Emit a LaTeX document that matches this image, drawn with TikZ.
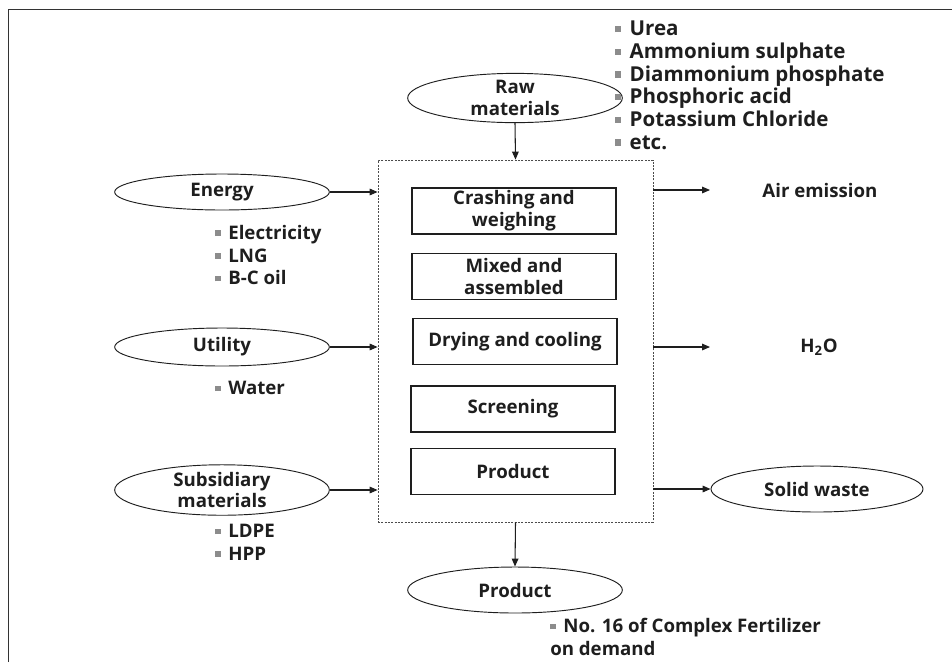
\documentclass[tikz,border=0pt]{standalone}
\usepackage{fontspec}
\setmainfont{Open Sans}
\usetikzlibrary{arrows.meta,shapes.geometric}
\definecolor{txt}{HTML}{1E1E1E}
\definecolor{bulgray}{HTML}{8C8C8C}
\newcommand{\bul}{\textcolor{bulgray}{\rule[0.18em]{0.3em}{0.3em}}\hspace{0.4em}}
\tikzset{
  every node/.style={font=\bfseries\fontsize{14}{16}\selectfont, text=txt},
  oval/.style={draw=txt, line width=0.7pt, ellipse, inner sep=0pt, minimum width=161pt, minimum height=27pt, align=center, font=\bfseries\fontsize{14}{16}\selectfont},
  stepbox/.style={draw=txt, line width=0.9pt, rectangle, inner sep=0pt, minimum width=153pt, minimum height=34.5pt, align=center, font=\bfseries\fontsize{14}{16.5}\selectfont},
  blist/.style={anchor=north west, align=left, inner sep=0pt, font=\bfseries\fontsize{14}{17}\selectfont},
  arr/.style={draw=txt, line width=0.8pt, -{Triangle[length=6pt,width=5pt]}},
}
\begin{document}
\begin{tikzpicture}[x=0.75pt, y=-0.75pt]
\useasboundingbox (0,0) rectangle (952,662);
% frame
\draw[line width=1.3pt, draw=black!80] (8.5,662) -- (8.5,9.5) -- (952,9.5);
% process box
\node[draw=txt!80, line width=0.6pt, dash pattern=on 1.5pt off 1pt, rectangle, minimum width=206.25pt, minimum height=271.5pt, inner sep=0pt] (proc) at (515.5,341) {};
\node[stepbox] (crash) at (514,211) {Crashing and\\weighing};
\node[stepbox] (mixed) at (514,276.5) {Mixed and\\assembled};
\node[stepbox] (dry) at (515,341.5) {Drying and cooling};
\node[stepbox] (screen) at (513,409) {Screening};
\node[stepbox] (prodbox) at (513,471.5) {Product};
% inputs
\node[oval, minimum height=34.5pt] (raw) at (515,98) {Raw\\materials};
\node[oval] (energy) at (222,192) {Energy};
\node[oval, minimum height=28.5pt] (utility) at (222,347) {Utility};
\node[oval, minimum height=30pt] (subsid) at (222,490) {Subsidiary\\materials};
% outputs
\node[oval, minimum width=159pt, minimum height=34.5pt] (solid) at (817,489) {Solid waste};
\node[oval, minimum height=34.5pt] (product) at (515,590) {Product};
\node (air) at (820,190) {Air emission};
\node (water) at (819,347) {H\textsubscript{2}O};
\coordinate (airend) at (710,190);
\coordinate (waterend) at (710,347);
% bullet lists
\node[blist, font=\bfseries\fontsize{15.4}{17}\selectfont] (rawlist) at (615,21) {\bul Urea\\\bul Ammonium sulphate\\\bul Diammonium phosphate\\\bul Phosphoric acid\\\bul Potassium Chloride\\\bul etc.};
\node[blist] (enlist) at (215,225) {\bul Electricity\\\bul LNG\\\bul B-C oil};
\node[blist] (utlist) at (215,381) {\bul Water};
\node[blist] (sublist) at (215,524) {\bul LDPE\\\bul HPP};
\node[blist] (prodlist) at (550,618) {\bul No. 16 of Complex Fertilizer\\on demand};
% connectors
\draw[arr] (raw.south) -- (proc.north);
\draw[arr] (energy.east) -- (energy -| proc.west);
\draw[arr] (utility.east) -- (utility -| proc.west);
\draw[arr] (subsid.east) -- (subsid -| proc.west);
\draw[arr] (proc.east |- airend) -- (airend);
\draw[arr] (proc.east |- waterend) -- (waterend);
\draw[arr] (proc.east |- solid) -- (solid.west);
\draw[arr] (proc.south) -- (product.north);
\end{tikzpicture}
\end{document}
